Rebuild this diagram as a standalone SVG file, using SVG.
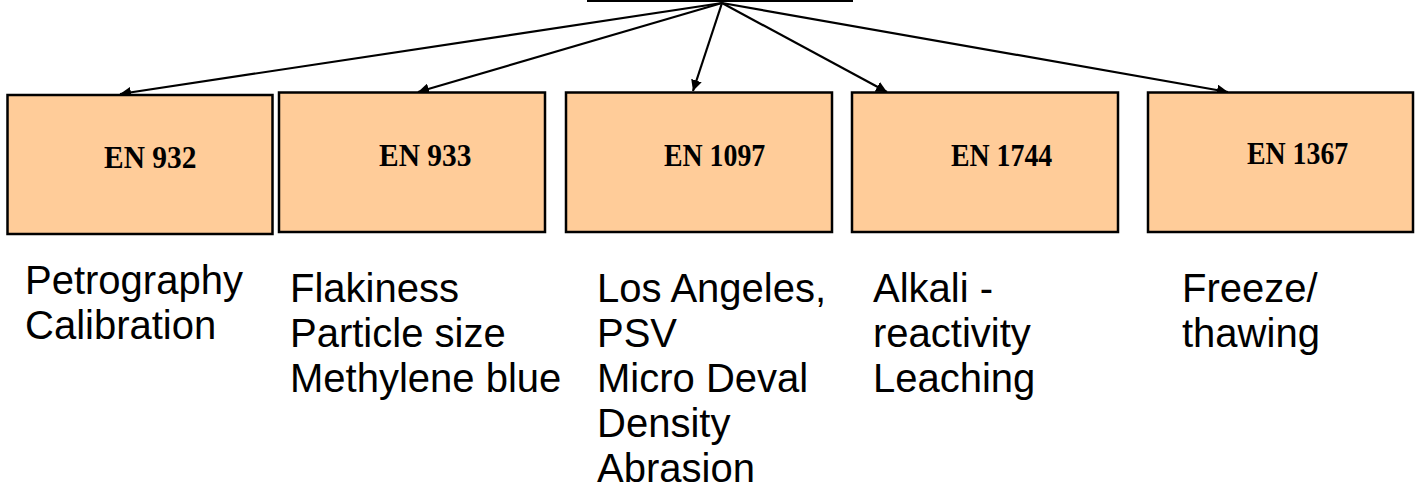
<svg xmlns="http://www.w3.org/2000/svg" width="1418" height="493" viewBox="0 0 1418 493">
<defs>
<marker id="ah" viewBox="0 0 10 10" refX="10" refY="5" markerWidth="5" markerHeight="5" orient="auto" markerUnits="strokeWidth">
<path d="M0,0 L10,5 L0,10 Z" fill="#000"/>
</marker>
<style>
.box{fill:#FFCC99;stroke:#000;stroke-width:2.5}
.en{font-family:"Liberation Serif","Times New Roman",serif;font-weight:bold;font-size:32px;fill:#000}
.lbl{font-family:"Liberation Sans",Arial,sans-serif;font-size:40px;fill:#000}
.con{stroke:#000;stroke-width:2.2;fill:none;marker-end:url(#ah)}
</style>
</defs>
<rect width="1418" height="493" fill="#fff"/>
<g id="top">
<line x1="587" y1="1" x2="853" y2="1" stroke="#000" stroke-width="2"/>
</g>
<g id="connectors">
<line class="con" x1="722" y1="3" x2="120" y2="94"/>
<line class="con" x1="722" y1="3" x2="418" y2="92"/>
<line class="con" x1="722" y1="3" x2="693" y2="91"/>
<line class="con" x1="722" y1="3" x2="887" y2="92"/>
<line class="con" x1="722" y1="3" x2="1228" y2="92"/>
</g>
<g id="n1">
<rect class="box" x="7.5" y="95" width="265" height="139"/>
<text class="en" transform="translate(104,168) scale(0.92,1)">EN 932</text>
</g>
<g id="n2">
<rect class="box" x="279" y="92.5" width="266" height="139.5"/>
<text class="en" transform="translate(379,166) scale(0.92,1)">EN 933</text>
</g>
<g id="n3">
<rect class="box" x="566" y="92.5" width="266" height="139.5"/>
<text class="en" transform="translate(664,166) scale(0.87,1)">EN 1097</text>
</g>
<g id="n4">
<rect class="box" x="852" y="92.5" width="266" height="139.5"/>
<text class="en" transform="translate(951,166) scale(0.87,1)">EN 1744</text>
</g>
<g id="n5">
<rect class="box" x="1148" y="92.5" width="265" height="139.5"/>
<text class="en" transform="translate(1247,164) scale(0.87,1)">EN 1367</text>
</g>
<g id="labels">
<text class="lbl" x="25" y="294">Petrography</text>
<text class="lbl" x="25" y="339">Calibration</text>
<text class="lbl" x="290" y="302">Flakiness</text>
<text class="lbl" x="290" y="347">Particle size</text>
<text class="lbl" x="290" y="392">Methylene blue</text>
<text class="lbl" x="597" y="302">Los Angeles,</text>
<text class="lbl" x="597" y="347">PSV</text>
<text class="lbl" x="597" y="392">Micro Deval</text>
<text class="lbl" x="597" y="437">Density</text>
<text class="lbl" x="597" y="482">Abrasion</text>
<text class="lbl" x="873" y="302">Alkali -</text>
<text class="lbl" x="873" y="347">reactivity</text>
<text class="lbl" x="873" y="392">Leaching</text>
<text class="lbl" x="1182" y="302">Freeze/</text>
<text class="lbl" x="1182" y="347">thawing</text>
</g>
</svg>
